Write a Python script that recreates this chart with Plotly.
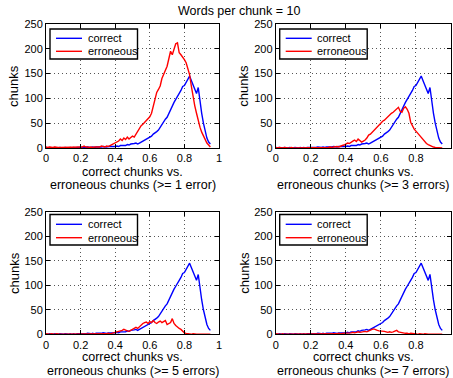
import plotly.graph_objects as go

# bin centres 0.00 .. 0.95 step 0.01
x_bins = [round(i * 0.01, 2) for i in range(96)]

correct = [
    1, 0, 1, 0, 0, 1, 0, 0, 1, 0,
    0, 1, 0, 0, 1, 0, 1, 0, 1, 1,
    1, 0, 1, 1, 2, 1, 1, 2, 1, 2,
    2, 1, 2, 3, 2, 2, 3, 3, 2, 3,
    3, 4, 3, 5, 5, 6, 5, 7, 6, 8,
    8, 9, 10, 8, 10, 12, 13, 15, 17, 19,
    21, 24, 28, 30, 33, 36, 42, 48, 52, 58,
    62, 70, 78, 86, 92, 98, 103, 110, 116, 124,
    126, 132, 140, 145, 136, 127, 120, 110, 122, 90,
    70, 50, 33, 20, 12, 8,
]

err_ge1 = [
    2, 1, 2, 1, 1, 2, 1, 1, 1, 1,
    1, 1, 1, 1, 1, 2, 1, 1, 1, 2,
    2, 2, 4, 2, 2, 1, 2, 1, 2, 2,
    3, 2, 4, 3, 2, 4, 3, 5, 7, 9,
    10, 12, 14, 18, 15, 20, 17, 22, 18, 21,
    24, 22, 28, 35, 41, 45, 48, 52, 55, 60,
    63, 70, 85, 100, 112, 118, 125, 140, 148, 158,
    165, 180, 195, 188, 198, 210, 212, 192, 188, 184,
    178, 172, 162, 148, 125, 100, 85, 70, 55, 42,
    32, 24, 16, 10, 6, 2,
]

err_ge3 = [
    1, 0, 1, 0, 0, 1, 0, 0, 0, 1,
    0, 0, 1, 0, 0, 0, 1, 0, 1, 0,
    1, 0, 1, 1, 0, 1, 1, 0, 1, 1,
    1, 2, 1, 2, 3, 3, 2, 4, 5, 6,
    8, 10, 9, 12, 14, 16, 13, 18, 14, 12,
    14, 16, 20, 26, 28, 32, 36, 40, 42, 48,
    50, 54, 56, 60, 64, 66, 70, 72, 75, 78,
    82, 74, 72, 80, 83, 78, 70, 52, 44, 38,
    34, 30, 26, 20, 16, 12, 9, 7, 5, 3,
    2, 1, 1, 0, 0, 0,
]

err_ge5 = [
    1, 0, 0, 1, 0, 0, 1, 0, 0, 0,
    0, 1, 0, 0, 0, 1, 0, 0, 0, 1,
    0, 0, 1, 0, 0, 1, 0, 0, 1, 0,
    1, 0, 1, 1, 0, 1, 2, 1, 2, 3,
    4, 5, 5, 7, 8, 10, 8, 7, 6, 8,
    10, 12, 14, 12, 16, 20, 22, 24, 25, 22,
    26, 24, 28, 24, 22, 25, 27, 24, 26, 28,
    20, 22, 24, 32, 22, 18, 14, 12, 10, 6,
    3, 2, 1, 1, 0, 1, 0, 0, 0, 0,
    0, 0, 0, 0, 0, 0,
]

err_ge7 = [
    1, 0, 0, 0, 1, 0, 0, 0, 0, 0,
    0, 0, 1, 0, 0, 0, 0, 0, 0, 1,
    0, 0, 0, 1, 0, 0, 0, 0, 1, 0,
    1, 0, 1, 1, 1, 1, 2, 1, 2, 2,
    2, 3, 3, 3, 4, 3, 4, 5, 4, 5,
    5, 6, 5, 7, 8, 10, 11, 9, 8, 7,
    7, 6, 6, 5, 4, 5, 4, 5, 6, 8,
    5, 4, 3, 3, 2, 2, 1, 2, 1, 1,
    1, 0, 1, 0, 0, 1, 0, 0, 0, 0,
    0, 0, 0, 0, 0, 0,
]

series_names = ["correct", "erroneous"]
series_colors = ["#0000ff", "#ff0000"]
error_labels = ["1 error", "3 errors", "5 errors", "7 errors"]
erroneous_sets = [err_ge1, err_ge3, err_ge5, err_ge7]
x_ticks = [0, 0.2, 0.4, 0.6, 0.8, 1]
y_ticks = [0, 50, 100, 150, 200, 250]

W, H = 453, 378
FONT = "Liberation Sans, Arial, Helvetica, sans-serif"

# panel boxes in pixels (left, right, top, bottom)
boxes = [
    (46, 219, 24, 148),
    (275.7, 451, 24, 148),
    (46, 219, 211.7, 334.3),
    (275.7, 451, 211.7, 334.3),
]
# legend box offsets (top, bottom, row1, row2) relative to panel top
leg_offsets = [
    (5, 35, 14.3, 27.3),
    (5, 35, 14.3, 27.3),
    (2.8, 33.3, 12.6, 26),
    (2.8, 33.3, 12.6, 26),
]


def px(v):
    return v / W


def py(v):
    return 1 - v / H


fig = go.Figure()
annotations = []
shapes = []
for i, (err, lab) in enumerate(zip(erroneous_sets, error_labels)):
    n = "" if i == 0 else str(i + 1)
    L, R, T, B = boxes[i]
    for name, col, ys in zip(series_names, series_colors, [correct, err]):
        fig.add_trace(go.Scatter(x=x_bins, y=ys, mode="lines", name=name,
                                 line=dict(color=col, width=1.4),
                                 xaxis="x" + n, yaxis="y" + n, showlegend=False))
    axcommon = dict(showline=True, linecolor="black", linewidth=1, mirror="ticks",
                    ticks="inside", ticklen=4, tickcolor="black", automargin=False,
                    showgrid=True, gridcolor="#555555", griddash="1px,3px", gridwidth=1,
                    zeroline=False, tickfont=dict(family=FONT, size=11, color="black"))
    fig.update_layout(**{
        "xaxis" + n: dict(domain=[px(L), px(R)], range=[0, 1], tickvals=x_ticks,
                          ticktext=[f"{v:g}" for v in x_ticks], anchor="y" + n,
                          ticklabelstandoff=0, **axcommon),
        "yaxis" + n: dict(domain=[py(B), py(T)], range=[0, 250], tickvals=y_ticks,
                          anchor="x" + n, **axcommon),
    })
    # legend box (drawn)
    lt, lb, r1, r2 = leg_offsets[i]
    shapes.append(dict(type="rect", xref="paper", yref="paper",
                       x0=px(L + 4), x1=px(L + 91.5), y0=py(T + lb), y1=py(T + lt),
                       line=dict(color="black", width=1.4), fillcolor="white", layer="above"))
    for name, col, row in zip(series_names, series_colors, [r1, r2]):
        shapes.append(dict(type="line", xref="paper", yref="paper",
                           x0=px(L + 10), x1=px(L + 36), y0=py(T + row), y1=py(T + row),
                           line=dict(color=col, width=1.4), layer="above"))
        annotations.append(dict(text=name, x=px(L + 39.5), y=py(T + row),
                                xref="paper", yref="paper", showarrow=False,
                                xanchor="left", yanchor="middle",
                                font=dict(family=FONT, size=11, color="black")))
    cx = px((L + R) / 2)
    top_line = 172 if i < 2 else 357
    annotations.append(dict(text="correct chunks vs.", x=cx, y=py(top_line),
                            xref="paper", yref="paper", showarrow=False,
                            xanchor="center", yanchor="middle",
                            font=dict(family=FONT, size=12.5, color="black")))
    annotations.append(dict(text=f"erroneous chunks (&gt;= {lab})", x=cx,
                            y=py(top_line + 13.5),
                            xref="paper", yref="paper", showarrow=False,
                            xanchor="center", yanchor="middle",
                            font=dict(family=FONT, size=12.5, color="black")))
    annotations.append(dict(text="chunks", x=px(L - 32), y=py((T + B) / 2),
                            xref="paper", yref="paper", showarrow=False, textangle=-90,
                            xanchor="center", yanchor="middle",
                            font=dict(family=FONT, size=13, color="black")))

annotations.append(dict(text="Words per chunk = 10", x=px(239), y=py(10.5),
                        xref="paper", yref="paper", showarrow=False,
                        xanchor="center", yanchor="middle",
                        font=dict(family=FONT, size=12.5, color="black")))

fig.update_layout(width=W, height=H, margin=dict(l=0, r=0, t=0, b=0),
                  paper_bgcolor="white", plot_bgcolor="white",
                  annotations=annotations, shapes=shapes, showlegend=False,
                  font=dict(family=FONT, color="black"))

fig.write_html("out.html")
